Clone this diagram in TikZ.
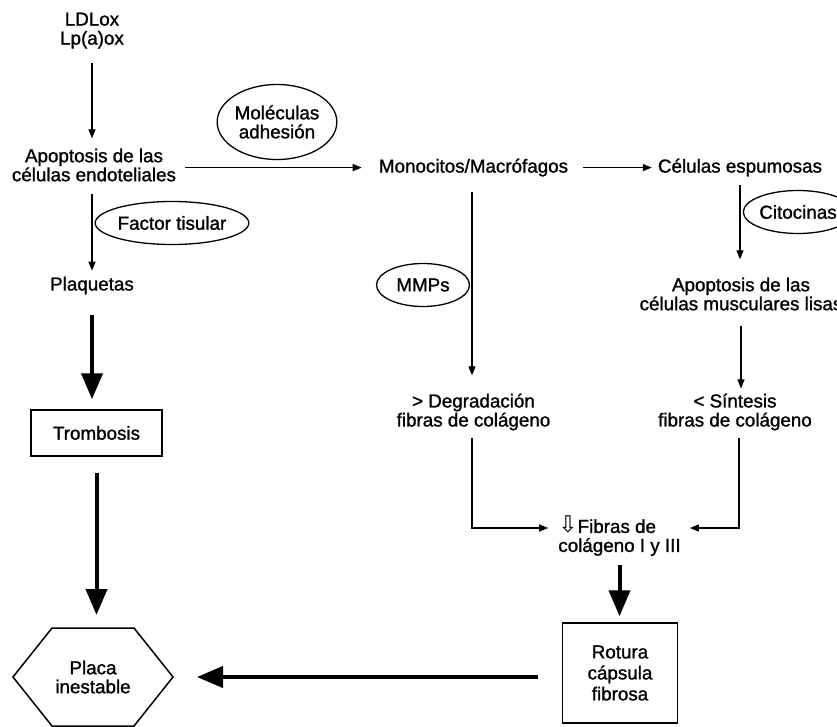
\documentclass[tikz,border=0pt]{standalone}
\usepackage{fontspec}
\setmainfont{Liberation Sans}[FakeBold=1.2]
\newfontfamily\symfont{DejaVu Sans}
\usepackage{tikz}
\usetikzlibrary{arrows.meta,shapes.geometric}

\begin{document}
\begin{tikzpicture}[x=1pt,y=-1pt,
    txt/.style={inner sep=0pt,align=center,font=\fontsize{18.8}{19}\selectfont},
    elip/.style={draw,ellipse,line width=1.3pt,inner sep=0pt,align=center,font=\fontsize{18.8}{19}\selectfont},
    caja/.style={draw,line width=1.5pt,inner sep=0pt,align=center,font=\fontsize{18.8}{21}\selectfont},
    flecha/.style={line width=1.2pt,-{Triangle[length=9pt,width=7pt]}},
    gruesa/.style={line width=4pt,-{Triangle[length=26pt,width=21pt]}}]
    \useasboundingbox (0,0) rectangle (837,727);
    \clip (0,0) rectangle (837,727);
    \node[txt] (ldl) at (92,30.6) {LDLox\\Lp(a)ox};
    \node[txt] (apoend) at (94,165) {Apoptosis de las\\células endoteliales};
    \node[txt] (plaq) at (92,285.6) {Plaquetas};
    \node[caja,minimum width=131pt,minimum height=46pt] (tromb) at (96.5,433) {Trombosis};
    \node[txt] (placa) at (93,677) {Placa\\inestable};
    \node[elip,minimum width=117pt,minimum height=75pt] (molec) at (277,122) {Moléculas\\adhesión};
    \node[elip,minimum width=137pt,minimum height=43pt] (factor) at (172,223) {Factor tisular};
    \node[txt] (mono) at (473.5,167.6) {Monocitos/Macrófagos};
    \node[txt] (esp) at (740,167.6) {Células espumosas};
    \node[elip,minimum width=93pt,minimum height=43pt] (mmp) at (423,285) {MMPs};
    \node[elip,minimum width=104pt,minimum height=43pt] (cito) at (798,212) {Citocinas};
    \node[txt] (apolis) at (741,294) {Apoptosis de las\\células musculares lisas};
    \node[txt] (deg) at (473.5,412) {> Degradación\\fibras de colágeno};
    \node[txt] (sint) at (735,412) {< Síntesis\\fibras de colágeno};
    \node[txt,align=left] (fibras) at (619.5,536) {{\symfont\fontsize{23}{19}\selectfont ⇩}Fibras de\\colágeno I y III};
    \node[caja,minimum width=115pt,minimum height=100pt] (rotura) at (620,673) {Rotura\\cápsula\\fibrosa};
    \coordinate (hexN) at (93,628);
    \coordinate (hexE) at (173,677);
    \draw[line width=1.5pt] (13,677) -- (52,628) -- (134,628) -- (hexE) -- (134,726) -- (52,726) -- cycle;
    \draw[flecha,shorten <=14pt,shorten >=10pt] (ldl.south) -- (ldl.south |- apoend.north);
    \draw[flecha,shorten <=9pt,shorten >=17pt] (apoend.east |- mono.west) -- (mono.west);
    \draw[flecha,shorten <=12.5pt,shorten >=6pt] (plaq.north |- apoend.south) -- (plaq.north);
    \draw[gruesa,shorten <=20pt,shorten >=10pt] (plaq.south) -- (plaq.south |- tromb.north);
    \draw[gruesa,shorten <=16pt,shorten >=13pt] (tromb.south) -- (tromb.south |- hexN);
    \draw[gruesa,shorten <=24pt,shorten >=24pt] (rotura.west |- hexE) -- (hexE);
    \draw[flecha,shorten <=15pt,shorten >=6pt] (mono.east) -- (esp.west);
    \draw[flecha,shorten <=15pt,shorten >=18pt] ([xshift=-1.5pt]mono.south) -- ([xshift=-1.5pt]deg.north);
    \draw[flecha,shorten <=8pt,shorten >=18pt] (esp.south) -- (esp.south |- apolis.north);
    \draw[flecha,shorten <=15pt,shorten >=5pt] (apolis.south) -- (apolis.south |- sint.north);
    \draw[flecha,shorten <=7.6pt,shorten >=10pt] ([xshift=-1.5pt]deg.south) |- ([yshift=8pt]fibras.west);
    \draw[flecha,shorten <=7.6pt,shorten >=9pt] ([xshift=4pt]sint.south) |- ([yshift=8pt]fibras.east);
    \draw[gruesa,shorten <=9pt,shorten >=6pt] (fibras.south) -- (fibras.south |- rotura.north);
\end{tikzpicture}
\end{document}
